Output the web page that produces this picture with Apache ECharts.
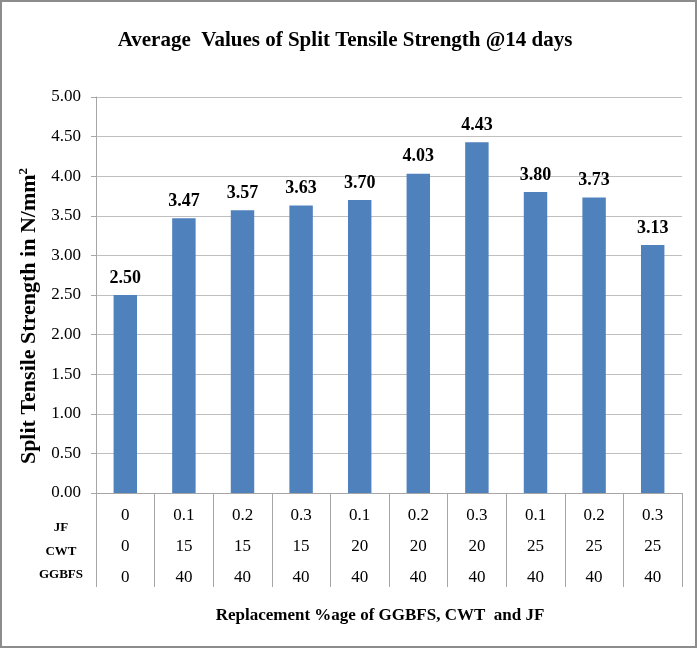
<!DOCTYPE html>
<html>
<head>
<meta charset="utf-8">
<script src="https://cdn.jsdelivr.net/npm/echarts@6/dist/echarts.min.js"></script>
<style>
html,body{margin:0;padding:0;background:#fff;}
#c{width:698px;height:649px;}
</style>
</head>
<body>
<div id="c"></div>
<script>
const jf = ['0','0.1','0.2','0.3','0.1','0.2','0.3','0.1','0.2','0.3'];
const cwt = ['0','15','15','15','20','20','20','25','25','25'];
const ggbfs = ['0','40','40','40','40','40','40','40','40','40'];
const values = [2.50, 3.47, 3.57, 3.63, 3.70, 4.03, 4.43, 3.80, 3.73, 3.13];
const rowNames = ['JF', 'CWT', 'GGBFS'];
const yTicks = {min: 0, max: 5, interval: 0.5};

const FONT = '"Liberation Serif","Times New Roman",serif';
const categories = values.map((v, i) => jf[i] + '\n' + cwt[i] + '\n' + ggbfs[i]);

const chart = echarts.init(document.getElementById('c'));
chart.setOption({
  animation: false,
  backgroundColor: '#fff',
  textStyle: {fontFamily: FONT},
  title: {
    text: 'Average  Values of Split Tensile Strength @14 days',
    left: 340, top: 25, textAlign: 'center',
    textStyle: {fontFamily: FONT, fontSize: 21, fontWeight: 'bold', color: '#000'}
  },
  grid: {left: 96, right: 16, top: 97, bottom: 156, containLabel: false},
  xAxis: {
    type: 'category',
    data: categories,
    axisLine: {show: true, lineStyle: {color: '#a6a6a6', width: 1}},
    axisTick: {show: true, interval: 0, length: 94, lineStyle: {color: '#a6a6a6'}},
    axisLabel: {
      interval: 0, margin: 7, lineHeight: 31,
      fontFamily: FONT, fontSize: 17, color: '#000'
    },
    name: 'Replacement %age of GGBFS, CWT  and JF',
    nameLocation: 'middle', nameGap: 114,
    nameTextStyle: {fontFamily: FONT, fontSize: 17, fontWeight: 'bold', color: '#000', padding: [0, 18, 0, 0]}
  },
  yAxis: {
    type: 'value',
    min: yTicks.min, max: yTicks.max, interval: yTicks.interval,
    axisLine: {show: true, lineStyle: {color: '#a6a6a6'}},
    axisTick: {show: true, length: 5, lineStyle: {color: '#a6a6a6'}},
    splitLine: {show: true, lineStyle: {color: '#bfbfbf', width: 1}},
    axisLabel: {
      margin: 15, fontFamily: FONT, fontSize: 17, color: '#000',
      formatter: v => v.toFixed(2)
    }
  },
  series: [{
    type: 'bar',
    data: values,
    barWidth: '40%',
    itemStyle: {color: '#4f81bd'},
    label: {
      show: true, position: 'top', distance: 8,
      fontFamily: FONT, fontSize: 18, fontWeight: 'bold', color: '#000',
      formatter: p => p.value.toFixed(2)
    }
  }],
  graphic: [
    {type: 'rect', shape: {x: 1, y: 1, width: 695, height: 646}, style: {fill: 'none', stroke: '#8c8c8c', lineWidth: 2}, silent: true},
    {type: 'text', x: 29, y: 316, rotation: Math.PI / 2,
      style: {
        text: '{a|Split Tensile Strength in N/mm}{s|2}',
        align: 'center', verticalAlign: 'middle',
        rich: {
          a: {fontFamily: FONT, fontSize: 22, fontWeight: 'bold', fill: '#000'},
          s: {fontFamily: FONT, fontSize: 13, fontWeight: 'bold', fill: '#000', verticalAlign: 'top', padding: [0,0,10,0]}
        }
      }},
    {type: 'text', x: 61, y: 528, style: {text: rowNames[0], font: 'bold 13px ' + FONT, fill: '#000', align: 'center', verticalAlign: 'middle'}},
    {type: 'text', x: 61, y: 552, style: {text: rowNames[1], font: 'bold 13px ' + FONT, fill: '#000', align: 'center', verticalAlign: 'middle'}},
    {type: 'text', x: 61, y: 575, style: {text: rowNames[2], font: 'bold 13px ' + FONT, fill: '#000', align: 'center', verticalAlign: 'middle'}}
  ]
});
</script>
</body>
</html>
